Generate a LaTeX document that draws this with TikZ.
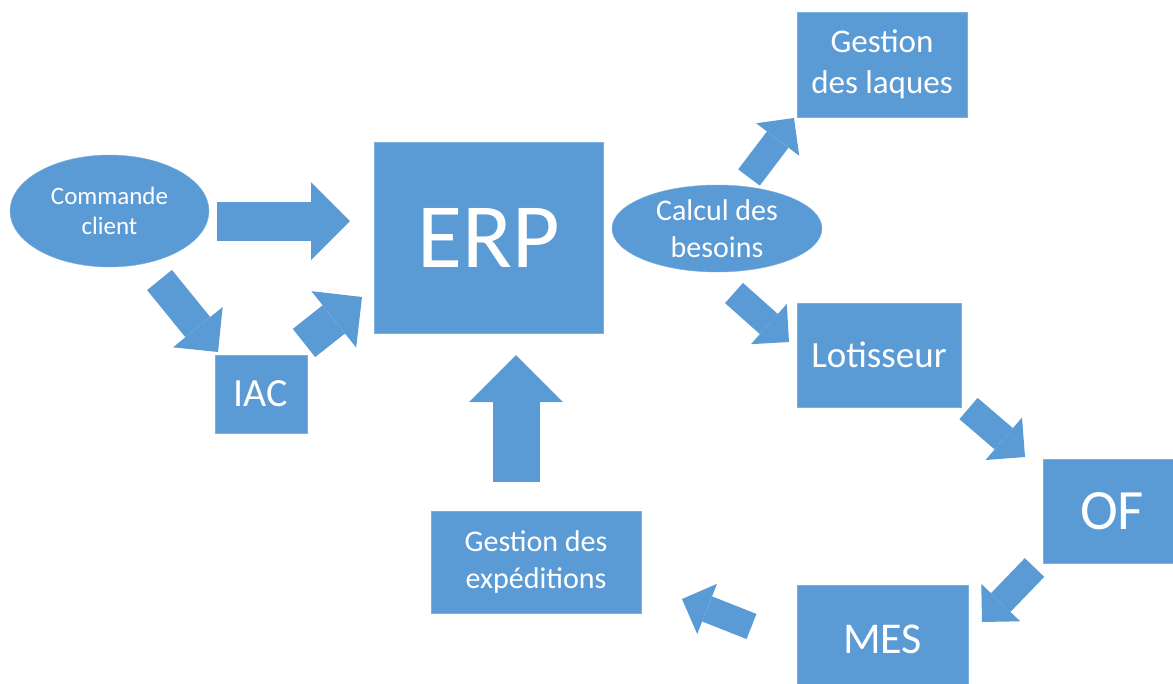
\documentclass[tikz,border=0pt]{standalone}
\usepackage{fontspec}
\setmainfont{Carlito}
\usetikzlibrary{shapes.geometric,arrows.meta}
\definecolor{office}{HTML}{5B9BD5}
\tikzset{
  bloc/.style={rectangle,fill=office,draw=office!80!white,text=white,align=center,inner sep=0pt},
  bulle/.style={ellipse,fill=office,draw=office!80!white,text=white,align=center,inner sep=0pt},
  fleche/.style={office,line width=#1pt,-{Triangle[length=#1pt,width=#1pt,scale width=2,line width=0pt]}}
}
\begin{document}
\begin{tikzpicture}[x=1pt,y=-1pt]
\useasboundingbox (0,0) rectangle (1173,683);
\clip (0,0) rectangle (1173,683);

 \node[bulle,minimum width=199pt,minimum height=112pt,font=\fontsize{25}{30}\selectfont] (cmd) at (109.5,211) {Commande\\client};
 \node[bloc,minimum width=92pt,minimum height=78pt,font=\fontsize{40}{48}\selectfont] (iac) at (261,394) {IAC};
 \node[bloc,minimum width=229pt,minimum height=191pt,font=\fontsize{92}{110}\selectfont] (erp) at (488.5,237.5) {ERP};
 \node[bulle,minimum width=210pt,minimum height=87pt,font=\fontsize{30}{37}\selectfont] (calc) at (717,228.5) {Calcul des\\besoins};
 \node[bloc,minimum width=170pt,minimum height=105pt,font=\fontsize{33}{41}\selectfont] (laques) at (882,64.5) {Gestion\\des laques};
 \node[bloc,minimum width=164pt,minimum height=104pt,font=\fontsize{37}{45}\selectfont] (lot) at (879,355) {Lotisseur};
 \node[bloc,minimum width=138pt,minimum height=104pt,font=\fontsize{57}{68}\selectfont] (of) at (1112,511) {OF};
 \node[bloc,minimum width=171pt,minimum height=108pt,font=\fontsize{44}{53}\selectfont] (mes) at (882.5,639) {MES};
 \node[bloc,minimum width=210pt,minimum height=102pt,font=\fontsize{30}{37}\selectfont] (exped) at (536,562) {Gestion des\\exp\'editions};

 % grosses fleches
 \coordinate (cmd-erp) at (217,221);   \coordinate (erp-cmd) at (350,221);
 \coordinate (cmd-iac) at (159.5,280); \coordinate (iac-cmd) at (218,352);
 \coordinate (iac-erp) at (304,343);   \coordinate (erp-iac) at (362,297);
 \coordinate (calc-laq) at (749,177.5);\coordinate (laq-calc) at (794,118);
 \coordinate (calc-lot) at (734,293);  \coordinate (lot-calc) at (789,342);
 \coordinate (lot-of) at (968.5,408.5);\coordinate (of-lot) at (1025,457);
 \coordinate (of-mes) at (1034.5,567.5);\coordinate (mes-of) at (982,622);
 \coordinate (mes-exp) at (751.5,626.5);\coordinate (exp-mes) at (682,599);
 \coordinate (exp-erp) at (516,482);   \coordinate (erp-exp) at (516,355);

 \draw[fleche=39] (cmd-erp)--(erp-cmd);
 \draw[fleche=32] (cmd-iac)--(iac-cmd);
 \draw[fleche=36] (iac-erp)--(erp-iac);
 \draw[fleche=27] (calc-laq)--(laq-calc);
 \draw[fleche=27] (calc-lot)--(lot-calc);
 \draw[fleche=28] (lot-of)--(of-lot);
 \draw[fleche=27] (of-mes)--(mes-of);
 \draw[fleche=27] (mes-exp)--(exp-mes);
 \draw[fleche=47] (exp-erp)--(erp-exp);

\end{tikzpicture}
\end{document}
